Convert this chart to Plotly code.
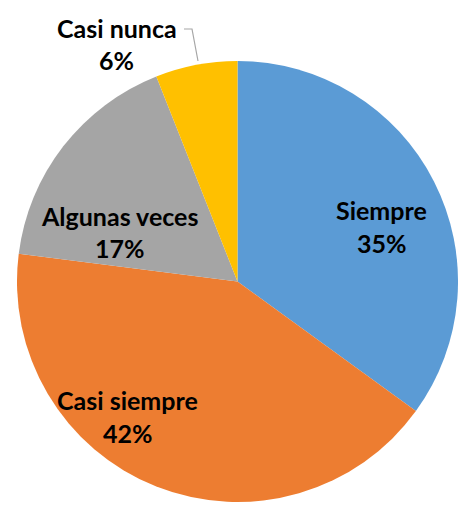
import plotly.graph_objects as go

categories = ["Siempre", "Casi siempre", "Algunas veces", "Casi nunca"]
values = [35, 42, 17, 6]
colors = ["#5B9BD5", "#ED7D31", "#A5A5A5", "#FFC000"]

W, H = 458, 506
cx, cy, r = 237.5, 281.5, 220.5

fig = go.Figure(go.Pie(
    labels=categories,
    values=values,
    sort=False,
    direction="clockwise",
    rotation=0,
    marker=dict(colors=colors, line=dict(width=0)),
    textinfo="none",
    hoverinfo="label+percent",
    showlegend=False,
    domain=dict(x=[(cx - r) / W, (cx + r) / W],
                y=[(H - cy - r) / H, (H - cy + r) / H]),
))

# label positions (pixel centres of the two text lines) per category
label_pos = {
    "Siempre": (381.5, 210, 243),
    "Casi siempre": (127.5, 400, 433),
    "Algunas veces": (119.5, 216, 248),
    "Casi nunca": (116.5, 28, 60),
}
total = sum(values)
font = dict(family="Lato, 'Open Sans', sans-serif", size=25, color="#000000")
for cat, v in zip(categories, values):
    x, y1, y2 = label_pos[cat]
    pct = f"{round(100 * v / total)}%"
    fig.add_annotation(x=x / W, y=1 - y1 / H, xref="paper", yref="paper",
                       text=f"<b>{cat}</b>", showarrow=False, font=font,
                       xanchor="center", yanchor="middle")
    fig.add_annotation(x=x / W, y=1 - y2 / H, xref="paper", yref="paper",
                       text=f"<b>{pct}</b>", showarrow=False, font=font,
                       xanchor="center", yanchor="middle")

# leader line for the small slice
pts = [(184, 29), (192, 29), (198, 61)]
path = "M " + " L ".join(f"{x / W},{1 - y / H}" for x, y in pts)
fig.add_shape(type="path", path=path, xref="paper", yref="paper",
              line=dict(color="#A6A6A6", width=1.2))

fig.update_layout(width=W, height=H, margin=dict(l=0, r=0, t=0, b=0),
                  paper_bgcolor="white", plot_bgcolor="white")
fig.write_html("out.html", config={"displayModeBar": False},
               post_script="document.body.style.margin='0';"
                           "document.body.style.overflow='hidden';")
